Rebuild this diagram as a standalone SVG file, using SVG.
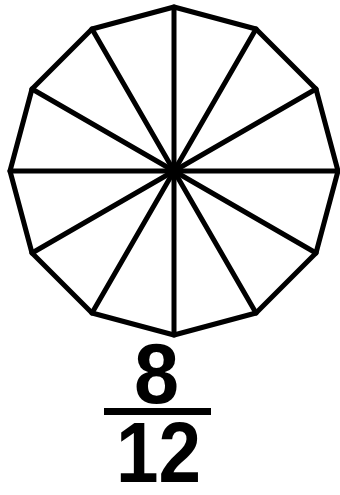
<svg xmlns="http://www.w3.org/2000/svg" width="340" height="495" viewBox="0 0 340 495">
<style>
.edge{stroke:#000;stroke-width:5;fill:none;stroke-linejoin:round;stroke-linecap:round}
.num{font-family:"Liberation Sans",Arial,sans-serif;font-weight:bold;font-size:85px;fill:#000}
</style>
<rect width="340" height="495" fill="#fff"/>
<g id="dodecagon">
<polygon class="edge" points="174,7 256,29 316,89 338,171 316,253 256,313 174,335 92,313 32,253 10,171 32,89 92,29"/>
</g>
<g id="spokes">
<line class="edge" x1="174" y1="7" x2="174" y2="335"/>
<line class="edge" x1="256" y1="29" x2="92" y2="313"/>
<line class="edge" x1="316" y1="89" x2="32" y2="253"/>
<line class="edge" x1="338" y1="171" x2="10" y2="171"/>
<line class="edge" x1="316" y1="253" x2="32" y2="89"/>
<line class="edge" x1="256" y1="313" x2="92" y2="29"/>
<circle cx="174" cy="171" r="5" fill="#000"/>
</g>
<g id="fraction">
<text class="num" x="156.5" y="403" text-anchor="middle" textLength="45" lengthAdjust="spacingAndGlyphs">8</text>
<rect x="104" y="408" width="107" height="7" fill="#000"/>
<text class="num" x="158.5" y="482" text-anchor="middle" textLength="85" lengthAdjust="spacingAndGlyphs">12</text>
</g>
</svg>
